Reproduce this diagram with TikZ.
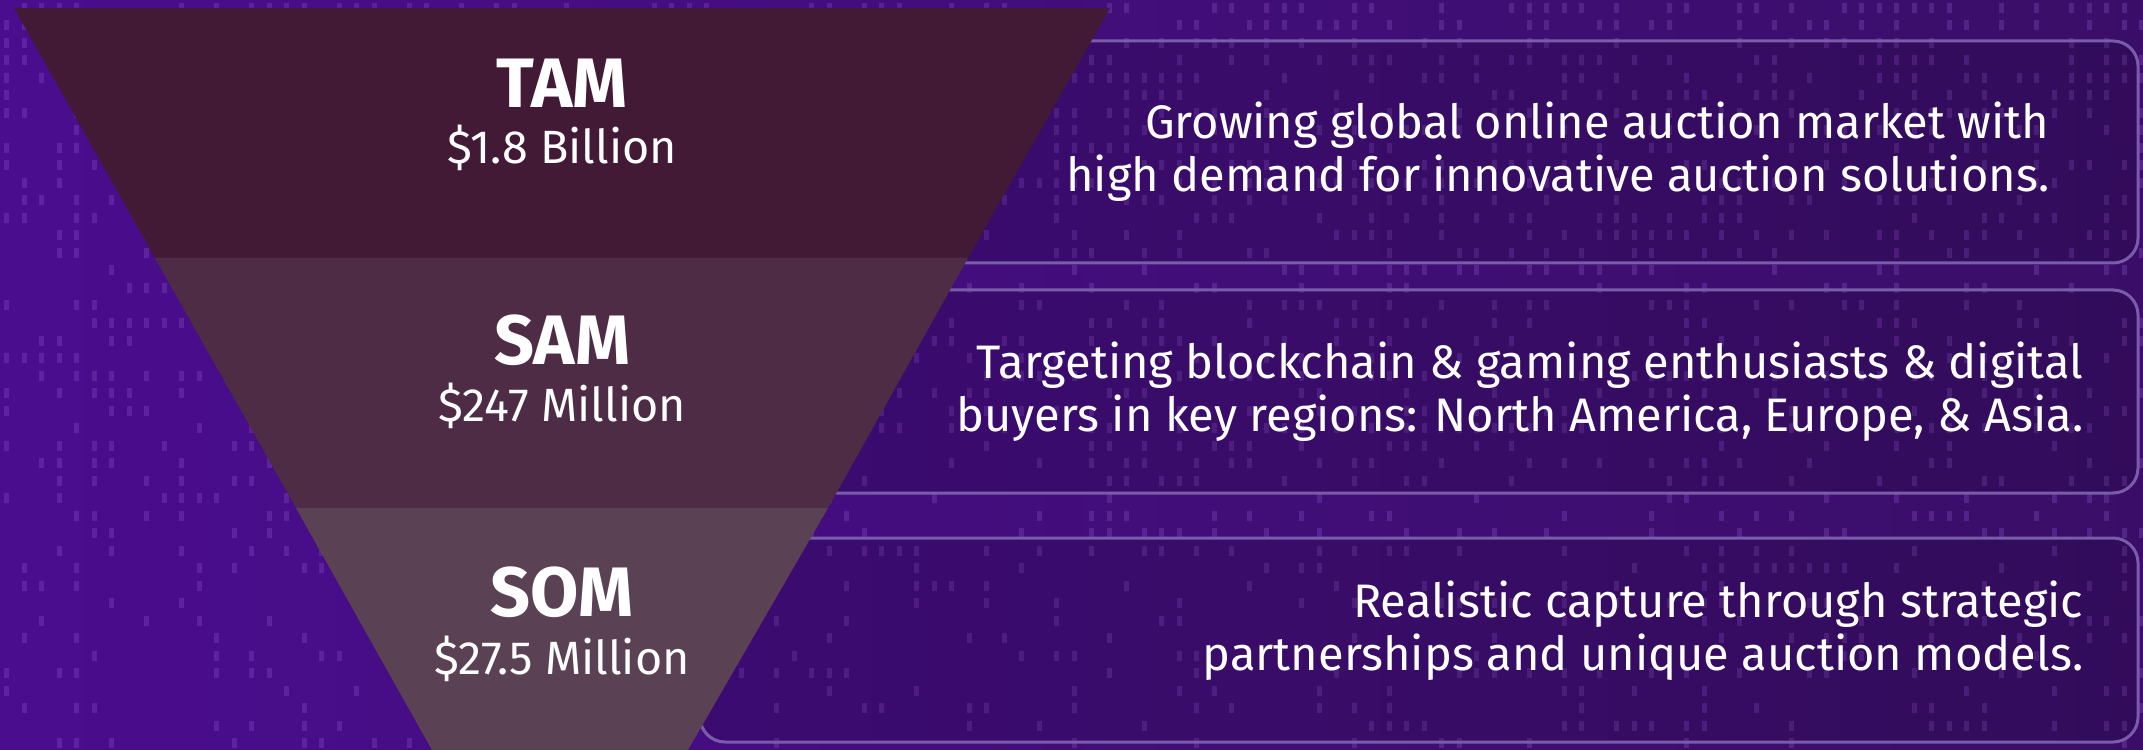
\documentclass[tikz,border=0pt]{standalone}
\usepackage{fontspec}
\setmainfont{Fira Sans}
\usetikzlibrary{positioning}
\definecolor{bgleft}{RGB}{74,13,142}
\definecolor{bgright}{RGB}{58,14,104}
\definecolor{tamfill}{RGB}{67,26,53}
\definecolor{samfill}{RGB}{78,44,69}
\definecolor{somfill}{RGB}{90,66,84}
\definecolor{boxline}{RGB}{121,92,170}
\definecolor{dashpurple}{RGB}{150,90,210}

\begin{document}
\begin{tikzpicture}[x=0.3pt,y=-0.3pt,line join=round,
  panel/.style={draw=boxline,line width=0.9pt,rounded corners=7.5pt,fill=black,fill opacity=0.12},
  blurb/.style={anchor=east,align=right,text=white,inner sep=0pt,font=\fontsize{14.1}{15.9}\selectfont},
  tier/.style={text=white,inner sep=0pt,font=\fontsize{21}{24}\selectfont\bfseries},
  amount/.style={text=white,inner sep=0pt,font=\fontsize{14}{16}\selectfont}]
\useasboundingbox (0,0) rectangle (2143,750);
\clip (0,0) rectangle (2143,750);
\shade[left color=bgleft,right color=bgright] (0,0) rectangle (2143,750);
% background dashes, thinner towards the bottom
\pgfmathsetseed{7}
\foreach \r in {0,...,42}{
  \foreach \c in {0,...,122}{
    \pgfmathtruncatemacro{\keep}{rnd<(0.5-0.32*\r/42)}
    \ifnum\keep=1
      \fill[dashpurple,opacity=0.28] (\c*17.5+4,\r*17.5+3) rectangle ++(5,10);
    \fi
  }
}
% panels behind the funnel
\path[panel] (700,41) rectangle (2138,263);
\path[panel] (700,290) rectangle (2138,493);
\path[panel] (700,538) rectangle (2138,742);
% funnel
\fill[tamfill] (14,8) -- (1110,8) -- (968,258) -- (155,258) -- cycle;
\fill[samfill] (155,258) -- (968,258) -- (828,508) -- (296,508) -- cycle;
\fill[somfill] (296,508) -- (828,508) -- (688,750) -- (432,750) -- cycle;
\node[tier] (tam) at (562,83) {TAM};
\node[amount] (tamval) at (562,148) {\$1.8 Billion};
\node[tier] (sam) at (562,340) {SAM};
\node[amount] (samval) at (562,406) {\$247 Million};
\node[tier] (som) at (562,592) {SOM};
\node[amount] (somval) at (562,659) {\$27.5 Million};
\node[blurb] (tamtext) at (2050,152) {Growing global online auction market with\\high demand for innovative auction solutions.};
\node[blurb] (samtext) at (2084,392) {Targeting blockchain \& gaming enthusiasts \& digital\\buyers in key regions: North America, Europe, \& Asia.};
\node[blurb] (somtext) at (2084,631) {Realistic capture through strategic\\partnerships and unique auction models.};
\end{tikzpicture}
\end{document}
